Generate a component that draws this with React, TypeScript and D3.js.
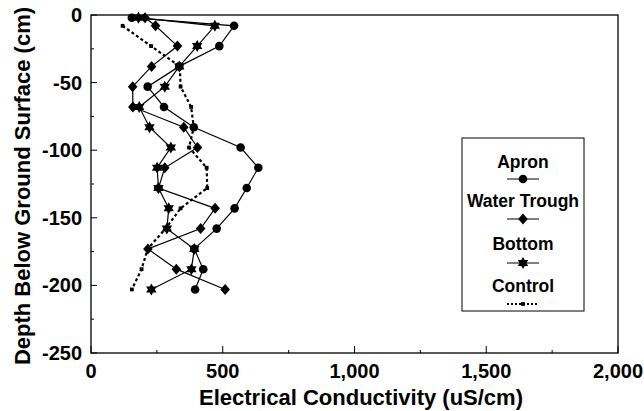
import React from "react";
import * as d3 from "d3";

// depth rows (cm) and conductivity readings (uS/cm) for each site
const depths = [-2, -8, -23, -38, -53, -68, -83, -98, -113, -128, -143, -158, -173, -188, -203];
const apron = [155, 543, 487, 335, 215, 277, 390, 568, 635, 591, 545, 477, 392, 426, 395];
const waterTrough = [205, 245, 328, 230, 158, 159, 352, 404, 280, 256, 471, 416, 216, 324, 509];
const bottom = [180, 470, 403, 335, 280, 183, 222, 303, 251, 256, 295, 288, 392, 381, 229];
const control = [null, 120, 228, 337, 340, 380, 390, 372, 439, 441, 340, 283, 215, 192, 155];

const seriesNames = ["Apron", "Water Trough", "Bottom", "Control"];
const xTicks = [0, 500, 1000, 1500, 2000];
const yTicks = [0, -50, -100, -150, -200, -250];

const FONT = "'Liberation Sans', Arial, sans-serif";

const hexagram = (r: number) => {
  const pt = (a: number) => [r * Math.sin(a), -r * Math.cos(a)];
  const tri = (off: number) =>
    [0, 1, 2].map((i) => pt(off + (i * 2 * Math.PI) / 3)).map((p, i) => (i ? "L" : "M") + p[0].toFixed(2) + "," + p[1].toFixed(2)).join("") + "Z";
  return tri(0) + tri(Math.PI);
};

const Marker = ({ kind, x, y }: { kind: string; x: number; y: number }) => {
  if (kind === "circle") return <circle cx={x} cy={y} r={4.3} fill="#000" />;
  if (kind === "diamond")
    return <path d="M0,-5.5L4.8,0L0,5.5L-4.8,0Z" transform={`translate(${x},${y})`} fill="#000" />;
  if (kind === "star") return <path d={hexagram(6)} transform={`translate(${x},${y})`} fill="#000" />;
  return <rect x={x - 1.9} y={y - 1.9} width={3.8} height={3.8} fill="#000" />;
};

export default function App() {
  const left = 91, right = 618, top = 15, bot = 353;
  const x = d3.scaleLinear().domain([0, 2000]).range([left, right]);
  const y = d3.scaleLinear().domain([-250, 0]).range([bot, top]);

  const series = [
    { name: seriesNames[0], values: apron, kind: "circle", dashed: false },
    { name: seriesNames[1], values: waterTrough, kind: "diamond", dashed: false },
    { name: seriesNames[2], values: bottom, kind: "star", dashed: false },
    { name: seriesNames[3], values: control, kind: "square", dashed: true },
  ];

  const line = d3
    .line<[number, number | null]>()
    .defined((d) => d[1] != null)
    .x((d) => x(d[1] as number))
    .y((d) => y(d[0]));

  const fmt = d3.format(",");
  const minorX = d3.range(0, 2001, 250);
  const minorY = d3.range(-250, 1, 25);

  const legX = 462, legY = 138, legW = 122, legH = 173, cx = 523;
  const legRows = [162, 179, 201, 219, 244, 263, 286, 304];

  return (
    <svg width={644} height={411} style={{ position: "absolute", left: 0, top: 0 }} fontFamily={FONT} fontWeight="bold">
      <rect width={644} height={411} fill="#fff" />
      {/* inward ticks */}
      {minorX.map((v) => (
        <line key={"xt" + v} x1={x(v)} x2={x(v)} y1={bot} y2={bot - (v % 500 === 0 ? 7 : 3)} stroke="#000" />
      ))}
      {minorY.map((v) => (
        <line key={"yt" + v} x1={left} x2={left + (v % 50 === 0 ? 6 : 3)} y1={y(v)} y2={y(v)} stroke="#000" />
      ))}
      <rect x={left} y={top} width={right - left} height={bot - top} fill="none" stroke="#000" strokeWidth={1.3} />

      {xTicks.map((v) => (
        <text key={"xl" + v} x={x(v)} y={371} textAnchor="middle" fontSize={20} dominantBaseline="central">
          {fmt(v)}
        </text>
      ))}
      {yTicks.map((v) => (
        <text key={"yl" + v} x={82} y={y(v)} textAnchor="end" fontSize={20} dominantBaseline="central">
          {v}
        </text>
      ))}
      <text x={361} y={397} textAnchor="middle" fontSize={22} dominantBaseline="central">
        Electrical Conductivity (uS/cm)
      </text>
      <text transform={`translate(22,186) rotate(-90)`} textAnchor="middle" fontSize={22} dominantBaseline="central">
        Depth Below Ground Surface (cm)
      </text>

      {series.map((s) => {
        const pts = depths.map((d, i) => [d, s.values[i]] as [number, number | null]);
        return (
          <g key={s.name}>
            <path
              d={line(pts) || ""}
              fill="none"
              stroke="#000"
              strokeWidth={s.dashed ? 2.2 : 1.2}
              strokeDasharray={s.dashed ? "3,2.5" : undefined}
            />
            {pts
              .filter((p) => p[1] != null)
              .map((p, i) => (
                <Marker key={i} kind={s.kind} x={x(p[1] as number)} y={y(p[0])} />
              ))}
          </g>
        );
      })}

      {/* legend */}
      <rect x={legX} y={legY} width={legW} height={legH} fill="#fff" stroke="#000" strokeWidth={1} />
      {series.map((s, i) => (
        <g key={"lg" + s.name}>
          <text x={cx} y={legRows[i * 2]} textAnchor="middle" fontSize={17.5} dominantBaseline="central">
            {s.name}
          </text>
          <line
            x1={cx - 16}
            x2={cx + 16}
            y1={legRows[i * 2 + 1]}
            y2={legRows[i * 2 + 1]}
            stroke="#000"
            strokeWidth={s.dashed ? 2 : 1}
            strokeDasharray={s.dashed ? "2,2" : undefined}
          />
          <Marker kind={s.kind} x={cx} y={legRows[i * 2 + 1]} />
        </g>
      ))}
    </svg>
  );
}
